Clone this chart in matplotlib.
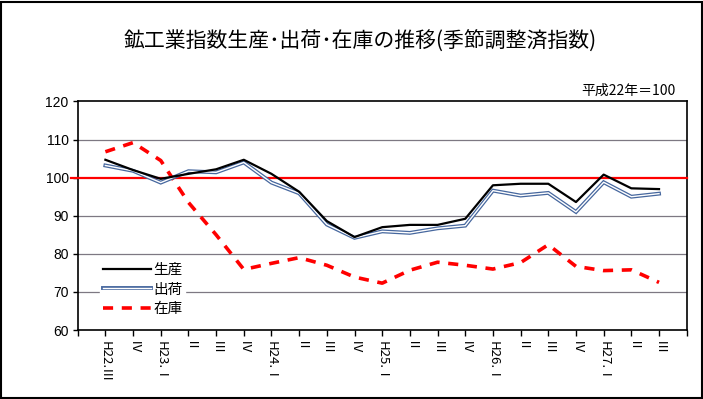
import matplotlib
matplotlib.use("Agg")
import matplotlib.pyplot as plt
import matplotlib.patches as patches
from matplotlib.lines import Line2D
import numpy as np

plt.rcParams['font.family'] = ['Noto Sans CJK JP', 'DejaVu Sans']

# ── Data ─────────────────────────────────────────────────────
quarters = ["H22.Ⅲ", "Ⅳ", "H23.Ⅰ", "Ⅱ", "Ⅲ", "Ⅳ", "H24.Ⅰ", "Ⅱ", "Ⅲ", "Ⅳ",
            "H25.Ⅰ", "Ⅱ", "Ⅲ", "Ⅳ", "H26.Ⅰ", "Ⅱ", "Ⅲ", "Ⅳ", "H27.Ⅰ", "Ⅱ", "Ⅲ"]
seisan = [104.7, 102.0, 99.7, 101.0, 102.2, 104.7, 101.0, 96.3, 88.6, 84.4, 87.0,
          87.6, 87.6, 89.2, 98.0, 98.4, 98.4, 93.6, 100.8, 97.2, 97.0]
shukka = [103.2, 101.8, 98.7, 101.7, 101.4, 104.0, 98.7, 95.9, 87.7, 84.2, 85.9,
          85.5, 86.7, 87.4, 96.6, 95.3, 96.0, 91.0, 98.8, 95.0, 95.8]
zaiko = [106.8, 109.2, 104.5, 93.5, 85.0, 75.9, 77.5, 79.0, 77.0, 73.9, 72.3,
         75.7, 77.8, 77.0, 76.0, 77.7, 82.4, 76.7, 75.6, 75.8, 72.5]
yticks = [60, 70, 80, 90, 100, 110, 120]

W, H = 703, 399
fig = plt.figure(figsize=(W / 100, H / 100), dpi=100)
ax = fig.add_axes([77.7 / W, 1 - 330 / H, (686.7 - 77.7) / W, (330 - 101.5) / H])

x = np.arange(1, len(quarters) + 1)

# ── Lines ────────────────────────────────────────────────────
ax.plot(x, zaiko, color="#ff0000", lw=2.6, dashes=(2.8, 2.4), zorder=4)
ax.plot(x, shukka, color="#46679e", lw=2.8, zorder=5, solid_joinstyle="miter")
ax.plot(x, shukka, color="white", lw=1.0, zorder=6)
ax.plot(x, seisan, color="black", lw=1.6, zorder=7)
ax.axhline(100, xmin=-0.011, xmax=1, color="#ff0000", lw=1.6, zorder=3, clip_on=False)

# ── Axes ─────────────────────────────────────────────────────
ax.set_xlim(0, len(quarters) + 1)
ax.set_ylim(60, 120)
ax.set_yticks(yticks)
ax.set_yticklabels([str(v) for v in yticks], family=['Liberation Sans'], fontsize=10)
ax.set_xticks(np.arange(0, len(quarters) + 2), minor=True)
ax.set_xticks(x)
ax.set_xticklabels(quarters, rotation=270, fontsize=9.5, va="top", ha="center")
ax.tick_params(axis="x", which="both", length=4, width=1, direction="out")
ax.tick_params(axis="x", which="major", pad=4)
ax.tick_params(axis="y", length=3.5, width=1, pad=3)
for g in [70, 80, 90, 110]:
    ax.axhline(g, color="#7d7882", lw=0.9, zorder=1)
for s in ax.spines.values():
    s.set_linewidth(1.2)

# ── Legend ───────────────────────────────────────────────────
handles = [
    Line2D([], [], color="black", lw=1.6),
    (Line2D([], [], color="#46679e", lw=2.8), Line2D([], [], color="white", lw=1.0)),
    Line2D([], [], color="#ff0000", lw=2.6, dashes=(2.8, 2.4)),
]
leg = fig.legend(handles, ["生産", "出荷", "在庫"], loc="upper left",
                 bbox_to_anchor=(100 / W, 1 - 260 / H), frameon=True, fontsize=10.5,
                 handlelength=3.3, handletextpad=0.15, labelspacing=0.38,
                 borderpad=0.2, borderaxespad=0)
leg.get_frame().set_facecolor("white")
leg.get_frame().set_edgecolor("white")
leg.get_frame().set_alpha(1)
leg.set_zorder(10)

# ── Texts ────────────────────────────────────────────────────
fig.text(360 / W, 1 - 42 / H, "鉱工業指数生産･出荷･在庫の推移(季節調整済指数)",
         fontsize=15, ha="center", va="center")
fig.text(675 / W, 1 - 91 / H, "平成22年＝100", fontsize=10, ha="right", va="center")

fig.add_artist(patches.Rectangle((0.5 / W, 1.5 / H), (W - 2) / W, (H - 3) / H,
                                 transform=fig.transFigure, fill=False,
                                 edgecolor="black", lw=1.5))

fig.savefig("out.png", dpi=100)
